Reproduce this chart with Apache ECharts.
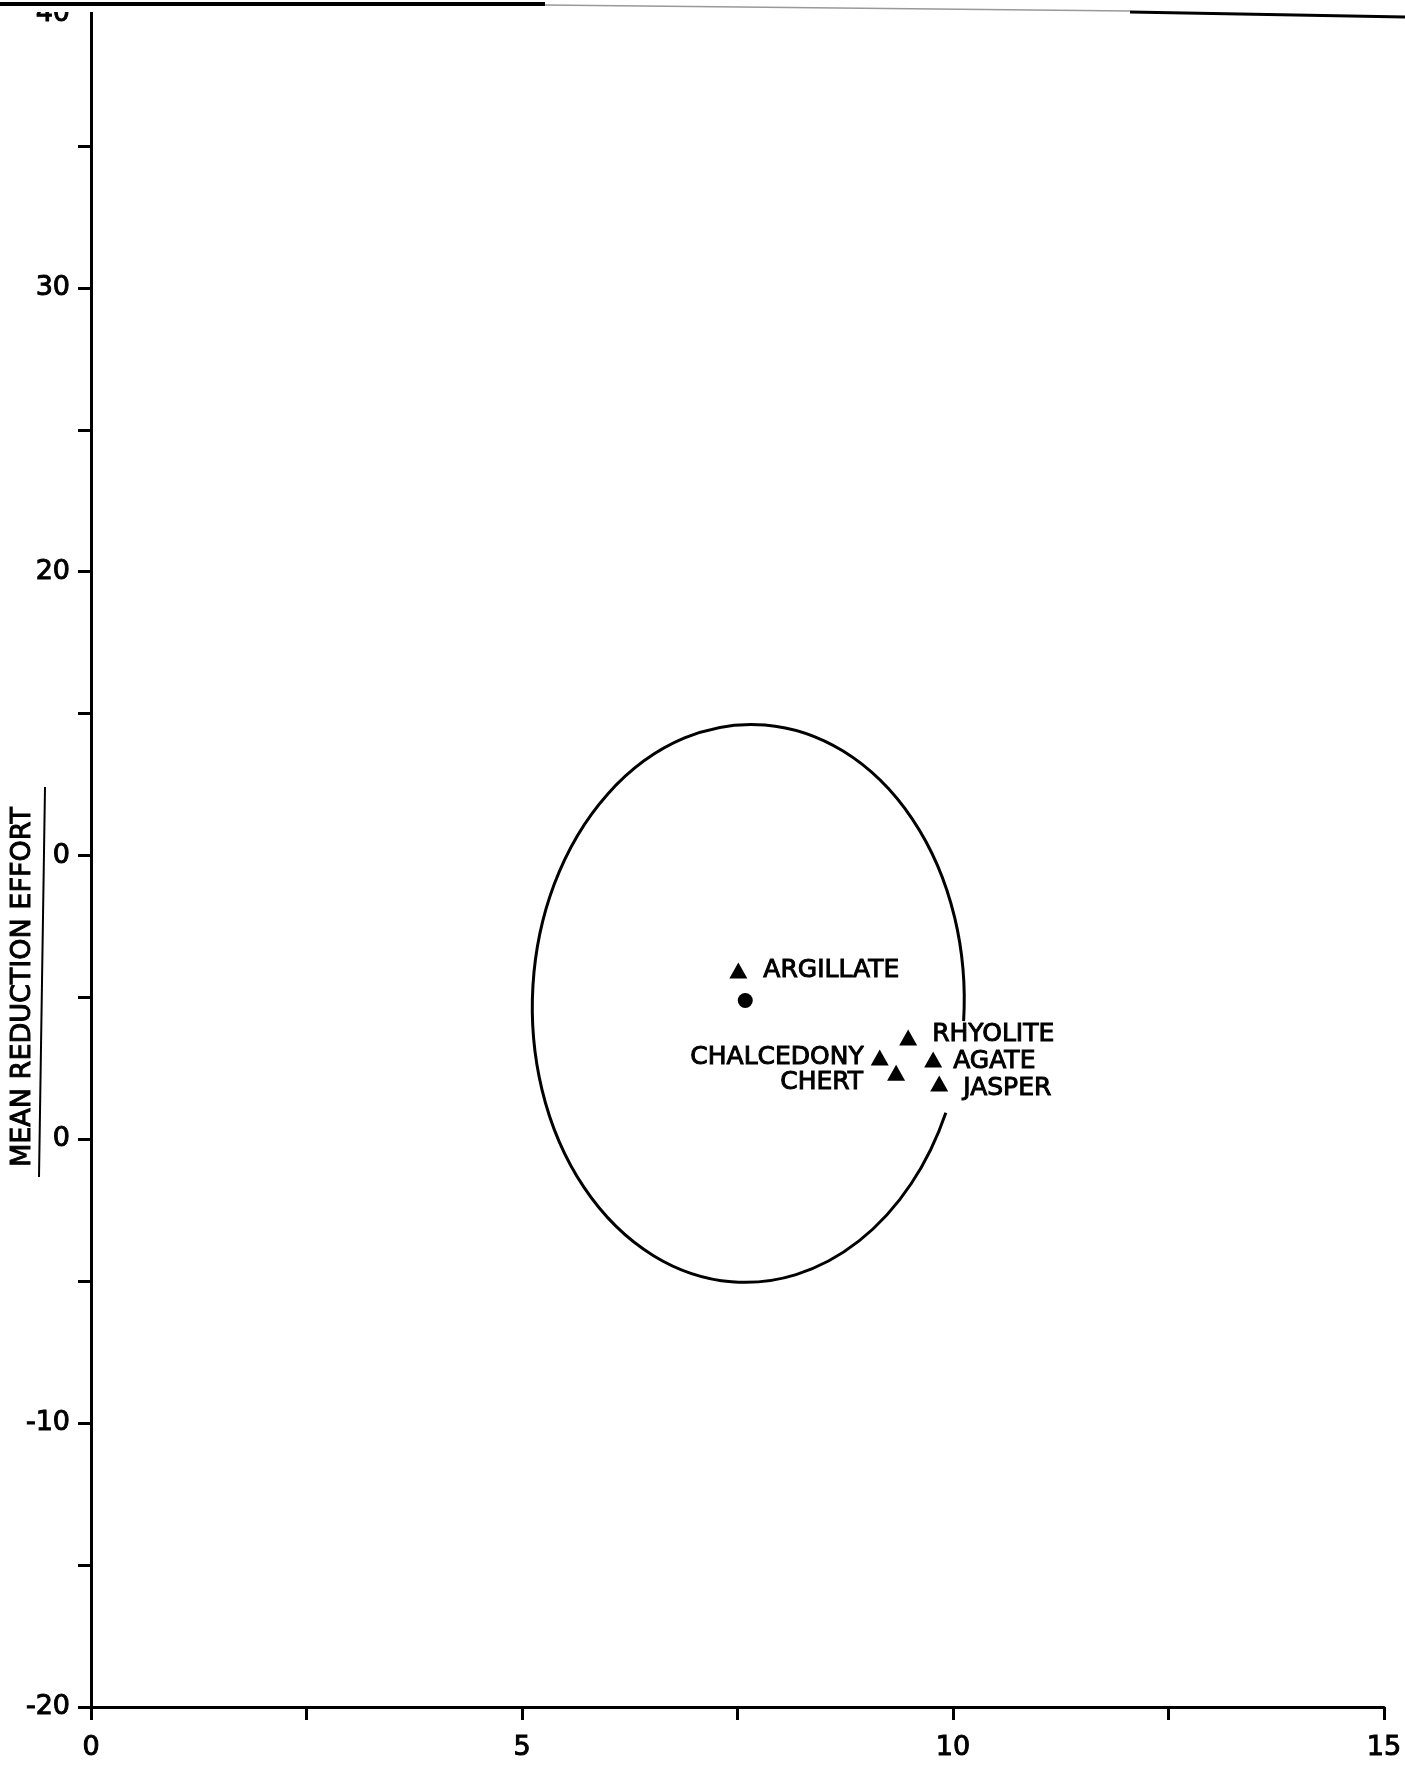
<!DOCTYPE html>
<html>
<head>
<meta charset="utf-8">
<style>
html, body { margin: 0; padding: 0; background: #fff; }
#chart { width: 1405px; height: 1775px; }
</style>
<script src="https://cdn.jsdelivr.net/npm/echarts@6/dist/echarts.min.js"></script>
</head>
<body>
<div id="chart"></div>
<script>
// stone types (triangles)
var stoneNames = ['ARGILLATE', 'RHYOLITE', 'CHALCEDONY', 'AGATE', 'CHERT', 'JASPER'];
var stoneX = [7.51, 9.48, 9.15, 9.77, 9.34, 9.84];
var stoneY = [5.95, 3.59, 2.88, 2.81, 2.35, 1.97];

// overall mean (dot)
var meanX = [7.59];
var meanY = [4.89];

// ellipse round the group: centre, half axes, open part on the right (degrees), tilt
var ellipseCenter = [7.625, 4.79];
var ellipseRadius = [2.505, 9.83];
var ellipseGap = [-21.9, -2.5];
var ellipseTilt = 1.5;

// tick labels as printed
var xTickValues = [0, 5, 10, 15];
var yTickValues = [40, 30, 20, 10, 0, -10, -20];
var yTickText = ['40', '30', '20', '0', '0', '-10', '-20'];

var FONT = 'DejaVu Sans';
// scanned lettering is heavier than the font, thicken it a little
var INK = { color: '#000', textBorderColor: '#000', textBorderWidth: 1 };

var labelPlace = {
	ARGILLATE: { position: 'right', distance: 16 },
	RHYOLITE: { position: 'right', distance: 15, offset: [0, -3] },
	CHALCEDONY: { position: 'left', distance: 7 },
	AGATE: { position: 'right', distance: 11, offset: [0, 2] },
	CHERT: { position: 'left', distance: 24, offset: [0, 10] },
	JASPER: { position: 'right', distance: 15, offset: [0, 5] }
};

function stoneData() {
	var a = [];
	for (var i = 0; i < stoneNames.length; i++) {
		var p = labelPlace[stoneNames[i]];
		a.push({
			name: stoneNames[i],
			value: [stoneX[i], stoneY[i]],
			label: { position: p.position, distance: p.distance, offset: p.offset || [0, 0] }
		});
	}
	return a;
}

function ellipseItem(params, api) {
	var c = api.coord([api.value(0), api.value(1)]);
	var s = api.size([api.value(2), api.value(3)]);
	var th = ellipseTilt * Math.PI / 180;
	function pt(deg) {
		var t = deg * Math.PI / 180;
		var lx = s[0] * Math.cos(t), ly = -s[1] * Math.sin(t);
		return [c[0] + lx * Math.cos(th) - ly * Math.sin(th), c[1] + lx * Math.sin(th) + ly * Math.cos(th)];
	}
	var a = pt(ellipseGap[1]), b = pt(ellipseGap[0]);
	var d = 'M' + a[0] + ' ' + a[1] + ' A' + s[0] + ' ' + s[1] + ' ' + ellipseTilt + ' 1 0 ' + b[0] + ' ' + b[1];
	return {
		type: 'path',
		shape: { pathData: d },
		style: { fill: 'none', stroke: '#000', lineWidth: 3 }
	};
}

var option = {
	backgroundColor: '#fff',
	animation: false,
	grid: { left: 91, right: 21, top: 4, bottom: 68, outerBoundsMode: 'none' },
	xAxis: {
		type: 'value', min: 0, max: 15, interval: 2.5,
		splitLine: { show: false },
		axisLine: { onZero: false, lineStyle: { color: '#000', width: 3 } },
		axisTick: { length: 13, lineStyle: { color: '#000', width: 3 } },
		axisLabel: Object.assign({
			showMinLabel: true, showMaxLabel: true,
			margin: 27, fontSize: 27, fontFamily: FONT,
			formatter: function (v) { return xTickValues.indexOf(v) >= 0 ? String(v) : ''; }
		}, INK)
	},
	yAxis: {
		type: 'value', min: -20, max: 40, interval: 5,
		splitLine: { show: false },
		axisLine: { onZero: false, lineStyle: { color: '#000', width: 3 } },
		axisTick: { length: 13, lineStyle: { color: '#000', width: 3 } },
		axisLabel: Object.assign({
			showMinLabel: true, showMaxLabel: true,
			margin: 21, fontSize: 27, fontFamily: FONT,
			formatter: function (v) {
				var i = yTickValues.indexOf(v);
				if (i < 0) return '';
				if (v === 40) return '{t|' + yTickText[i] + '}';
				return yTickText[i];
			},
			rich: { t: Object.assign({ fontSize: 27, fontFamily: FONT, padding: [20, 0, 0, 0] }, INK) }
		}, INK)
	},
	series: [
		{
			type: 'custom',
			coordinateSystem: 'cartesian2d',
			data: [[ellipseCenter[0], ellipseCenter[1], ellipseRadius[0], ellipseRadius[1]]],
			encode: { x: 0, y: 1 },
			clip: false,
			silent: true,
			renderItem: ellipseItem
		},
		{
			type: 'scatter',
			symbol: 'triangle',
			symbolSize: [18, 16],
			itemStyle: { color: '#000', opacity: 1 },
			label: Object.assign({ show: true, formatter: '{b}', fontSize: 25, fontFamily: FONT }, INK),
			data: stoneData()
		},
		{
			type: 'scatter',
			symbol: 'circle',
			symbolSize: 15,
			itemStyle: { color: '#000', opacity: 1 },
			data: [[meanX[0], meanY[0]]]
		}
	],
	graphic: [
		{ type: 'rect', z: 100, shape: { x: 0, y: 0, width: 1405, height: 12 }, style: { fill: '#fff' } },
		{ type: 'line', z: 101, shape: { x1: 0, y1: 4, x2: 545, y2: 4 }, style: { stroke: '#000', lineWidth: 4 } },
		{ type: 'line', z: 101, shape: { x1: 545, y1: 5, x2: 1130, y2: 11 }, style: { stroke: '#999', lineWidth: 1.5 } },
		{ type: 'line', z: 101, shape: { x1: 1130, y1: 12, x2: 1405, y2: 17 }, style: { stroke: '#000', lineWidth: 3 } },
		{
			type: 'text', z: 101, x: 23, y: 987, rotation: Math.PI / 2,
			style: {
				text: 'MEAN REDUCTION EFFORT', fontSize: 27, fontFamily: FONT, fill: '#000',
				stroke: '#000', lineWidth: 1, align: 'center', verticalAlign: 'middle'
			}
		},
		{ type: 'line', z: 101, shape: { x1: 45, y1: 787, x2: 39, y2: 1177 }, style: { stroke: '#000', lineWidth: 2 } }
	]
};

var myChart = echarts.init(document.getElementById('chart'));
myChart.setOption(option);
</script>
</body>
</html>
